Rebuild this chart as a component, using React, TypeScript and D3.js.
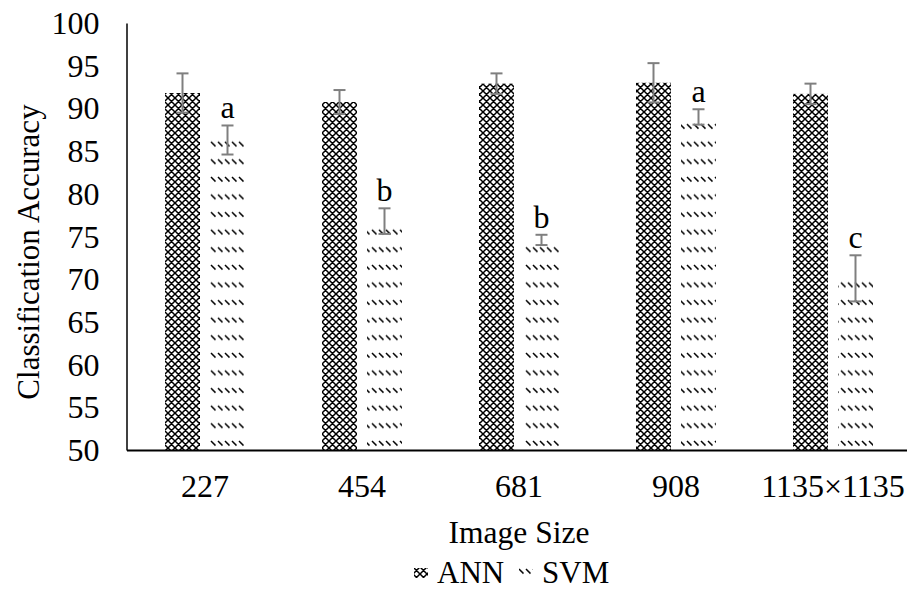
import React, { useEffect, useRef } from "react";
import * as d3 from "d3";

const categories = ["227", "454", "681", "908", "1135×1135"];
const seriesNames = ["ANN", "SVM"];
const annValues = [91.8, 90.75, 92.9, 93.0, 91.7];
const annErrors = [2.3, 1.4, 1.2, 2.3, 1.2];
const svmValues = [86.3, 76.8, 74.6, 89.0, 70.1];
const svmErrors = [1.7, 1.5, 0.6, 0.9, 2.7];
const svmLetters = ["a", "b", "b", "a", "c"];
const yTicks = [50, 55, 60, 65, 70, 75, 80, 85, 90, 95, 100];

const FONT = "'Liberation Serif', 'Times New Roman', serif";

export default function App() {
  const svgRef = useRef<SVGSVGElement>(null);

  useEffect(() => {
    drawChart();
  }, []);

  const drawChart = () => {
    const svg = d3.select(svgRef.current);
    svg.selectAll("*").remove();

    const width = 907;
    const height = 591;

    svg.append("rect").attr("width", width).attr("height", height).attr("fill", "#fff");

    // patterns: crossed diagonals for ANN, short dashed diagonals for SVM
    const defs = svg.append("defs");
    const annPat = defs
      .append("pattern")
      .attr("id", "annPat")
      .attr("patternUnits", "userSpaceOnUse")
      .attr("width", 7)
      .attr("height", 7);
    annPat.append("rect").attr("width", 7).attr("height", 7).attr("fill", "#fff");
    const crossPath = [-7, 0, 7]
      .map((dx) => `M${dx},0L${dx + 7},7M${dx + 7},0L${dx},7`)
      .join("");
    annPat
      .append("path")
      .attr("d", crossPath)
      .attr("stroke", "#000")
      .attr("stroke-width", 1.5);

    const makeSvmPattern = (id: string, offsetY: number) => {
      const p = defs
        .append("pattern")
        .attr("id", id)
        .attr("patternUnits", "userSpaceOnUse")
        .attr("y", offsetY)
        .attr("width", 7)
        .attr("height", 17.6);
      p.append("rect").attr("width", 7).attr("height", 17.6).attr("fill", "#fff");
      p.append("line")
        .attr("x1", 1)
        .attr("y1", 1)
        .attr("x2", 5.5)
        .attr("y2", 5.5)
        .attr("stroke", "#000")
        .attr("stroke-width", 1.5);
    };
    makeSvmPattern("svmPat", 0);
    makeSvmPattern("svmLegendPat", 568);

    // scales
    const x = d3.scaleBand().domain(categories).range([126.5, 911.5]);
    const xInner = d3
      .scaleBand()
      .domain(seriesNames)
      .range([38.5, 118.5])
      .paddingInner(10 / 45);
    const y = d3.scaleLinear().domain([50, 100]).range([450, 23]);

    const series = [
      { name: "ANN", values: annValues, errors: annErrors, fill: "url(#annPat)" },
      { name: "SVM", values: svmValues, errors: svmErrors, fill: "url(#svmPat)" },
    ];

    series.forEach((s) => {
      const rows = categories.map((c, i) => ({ c, v: s.values[i], e: s.errors[i] }));
      const g = svg.append("g");
      g.selectAll("rect")
        .data(rows)
        .enter()
        .append("rect")
        .attr("x", (d) => x(d.c)! + xInner(s.name)!)
        .attr("y", (d) => y(d.v))
        .attr("width", xInner.bandwidth())
        .attr("height", (d) => y(50) - y(d.v))
        .attr("fill", s.fill);

      // error bars
      const cx = (d: any) => x(d.c)! + xInner(s.name)! + xInner.bandwidth() / 2;
      const eb = g
        .selectAll(".err")
        .data(rows)
        .enter()
        .append("g")
        .attr("stroke", "#7f7f7f")
        .attr("stroke-width", 2);
      eb.append("line")
        .attr("x1", cx)
        .attr("x2", cx)
        .attr("y1", (d) => y(d.v + d.e))
        .attr("y2", (d) => y(d.v - d.e));
      eb.append("line")
        .attr("x1", (d) => cx(d) - 6)
        .attr("x2", (d) => cx(d) + 6)
        .attr("y1", (d) => y(d.v + d.e))
        .attr("y2", (d) => y(d.v + d.e));
      eb.append("line")
        .attr("x1", (d) => cx(d) - 6)
        .attr("x2", (d) => cx(d) + 6)
        .attr("y1", (d) => y(d.v - d.e))
        .attr("y2", (d) => y(d.v - d.e));

      if (s.name === "SVM") {
        g.selectAll(".lbl")
          .data(rows)
          .enter()
          .append("text")
          .attr("x", cx)
          .attr("y", (d) => y(d.v + d.e) - 7)
          .attr("text-anchor", "middle")
          .style("font-family", FONT)
          .style("font-size", "32px")
          .text((d, i) => svmLetters[i]);
      }
    });

    // y axis
    const yAxis = svg
      .append("g")
      .attr("transform", "translate(126.5,0)")
      .call(d3.axisLeft(y).tickValues(yTicks).tickSize(0).tickPadding(27));
    yAxis.select(".domain").attr("stroke", "#000").attr("stroke-width", 1.5);
    yAxis
      .selectAll("text")
      .attr("dy", 10.5)
      .style("font-family", FONT)
      .style("font-size", "32px")
      .attr("fill", "#000");

    // x axis
    const xAxis = svg
      .append("g")
      .attr("transform", "translate(0,450)")
      .call(d3.axisBottom(x).tickSize(0).tickSizeOuter(0));
    xAxis.select(".domain").attr("stroke", "#000").attr("stroke-width", 2);
    xAxis
      .selectAll("text")
      .attr("y", 47)
      .attr("dy", 0)
      .style("font-family", FONT)
      .style("font-size", "32px")
      .attr("fill", "#000");

    // axis titles
    svg
      .append("text")
      .attr("x", 519)
      .attr("y", 543)
      .attr("text-anchor", "middle")
      .style("font-family", FONT)
      .style("font-size", "31.5px")
      .text("Image Size");

    svg
      .append("text")
      .attr("transform", "translate(39,252) rotate(-90)")
      .attr("text-anchor", "middle")
      .style("font-family", FONT)
      .style("font-size", "31px")
      .text("Classification Accuracy");

    // legend
    const legend = [
      { name: "ANN", fill: "url(#annPat)", sx: 414, tx: 437 },
      { name: "SVM", fill: "url(#svmLegendPat)", sx: 519, tx: 542 },
    ];
    const lg = svg.append("g");
    lg.selectAll("rect")
      .data(legend)
      .enter()
      .append("rect")
      .attr("x", (d) => d.sx)
      .attr("y", 568)
      .attr("width", 14)
      .attr("height", 10)
      .attr("fill", (d) => d.fill);
    lg.selectAll("text")
      .data(legend)
      .enter()
      .append("text")
      .attr("x", (d) => d.tx)
      .attr("y", 583)
      .style("font-family", FONT)
      .style("font-size", "31px")
      .text((d) => d.name);
  };

  return (
    <svg
      ref={svgRef}
      width={907}
      height={591}
      style={{ position: "absolute", left: 0, top: 0, display: "block" }}
    ></svg>
  );
}
